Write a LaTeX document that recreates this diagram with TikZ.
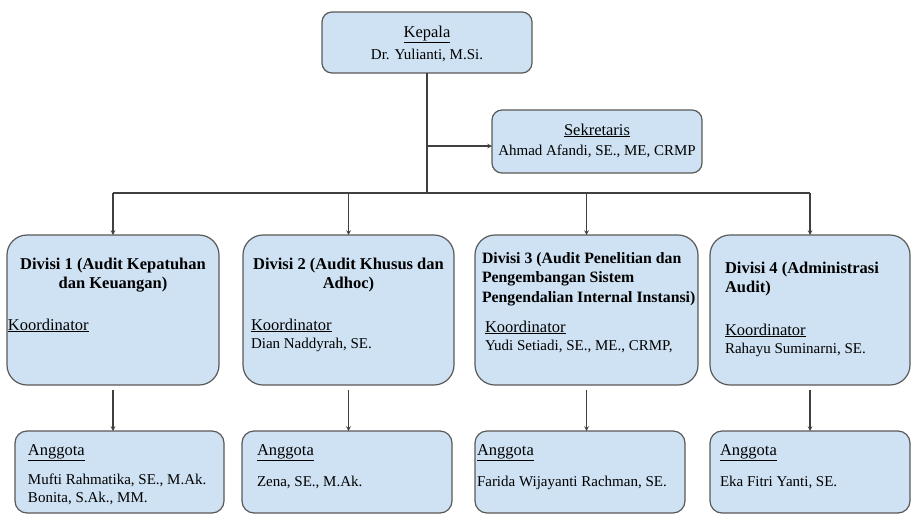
\documentclass[tikz,border=0pt]{standalone}
\usepackage{fontspec}
\setmainfont{Liberation Serif}
\usepackage{tikz}
\usetikzlibrary{arrows,calc,positioning}
\definecolor{biruMuda}{RGB}{207, 226, 243}
\definecolor{abuGaris}{RGB}{89, 89, 89}
\definecolor{abuPanah}{RGB}{64, 64, 64}
\newcommand{\judulfont}{\fontsize{16.5}{19}\selectfont}
\newcommand{\namafont}{\fontsize{15}{18}\selectfont}
\tikzstyle{kotak}=[draw=abuGaris, fill=biruMuda, line width=1.2pt,
                   inner sep=0pt, outer sep=0pt, rounded corners=10pt]
\tikzstyle{garisp}=[draw=abuPanah, line width=1.1pt]
\tikzstyle{panah}=[garisp, ->, >=stealth]

\begin{document}
\begin{tikzpicture}[x=1pt,y=-1pt]
    \useasboundingbox (0,0) rectangle (911,515);

    % pimpinan
    \draw (427,42.5) node (kepala) [kotak] {\parbox[t][61pt][t]{210pt}{\centering
        {\judulfont\rule{0pt}{25pt}\underline{Kepala}\par}\vspace{4pt}
        {\namafont Dr. Yulianti, M.Si.\par}}};
    \draw (597,141.5) node (sekretaris) [kotak] {\parbox[t][63pt][t]{210pt}{\centering
        {\judulfont\rule{0pt}{25pt}\underline{Sekretaris}\par}\vspace{2pt}
        {\namafont Ahmad Afandi, SE., ME, CRMP\par}}};

    % divisi
    \draw (113,310) node (div1) [kotak,rounded corners=20pt] {\parbox[t][150pt][t]{212pt}{%
        {\centering\judulfont\bfseries\rule{0pt}{34pt}Divisi 1 (Audit Kepatuhan\\dan Keuangan)\par}
        \vspace{23pt}
        {\judulfont\hspace*{1pt}\underline{Koordinator}\par}}};
    \draw (348.5,310) node (div2) [kotak,rounded corners=20pt] {\parbox[t][150pt][t]{211pt}{%
        {\centering\judulfont\bfseries\rule{0pt}{34pt}Divisi 2 (Audit Khusus dan\\Adhoc)\par}
        \vspace{23pt}
        {\leftskip=8pt\judulfont\underline{Koordinator}\par}
        {\leftskip=8pt\namafont Dian Naddyrah, SE.\par}}};
    \draw (586.5,310) node (div3) [kotak,rounded corners=20pt] {\parbox[t][150pt][t]{223pt}{%
        {\leftskip=7pt\fontsize{15.8}{19.5}\selectfont\bfseries\rule{0pt}{28pt}\mbox{Divisi 3 (Audit Penelitian dan}\\
            \mbox{Pengembangan Sistem}\\\mbox{Pengendalian Internal Instansi)}\par}
        \vspace{11pt}
        {\leftskip=10pt\judulfont\underline{Koordinator}\par}
        {\leftskip=10pt\namafont Yudi Setiadi, SE., ME., CRMP,\par}}};
    \draw (810,310) node (div4) [kotak,rounded corners=20pt] {\parbox[t][150pt][t]{200pt}{%
        {\leftskip=15pt\judulfont\bfseries\rule{0pt}{38pt}Divisi 4 (Administrasi\\Audit)\par}
        \vspace{24pt}
        {\leftskip=15pt\judulfont\underline{Koordinator}\par}
        {\leftskip=15pt\namafont Rahayu Suminarni, SE.\par}}};

    % anggota
    \draw (119.5,472) node (ang1) [kotak,rounded corners=12pt] {\parbox[t][82pt][t]{209pt}{%
        {\leftskip=13pt\judulfont\rule{0pt}{24pt}\underline{Anggota}\par}
        \vspace{11pt}
        {\leftskip=13pt\namafont Mufti Rahmatika, SE., M.Ak.\\Bonita, S.Ak., MM.\par}}};
    \draw (347,472) node (ang2) [kotak,rounded corners=12pt] {\parbox[t][82pt][t]{210pt}{%
        {\leftskip=15pt\judulfont\rule{0pt}{24pt}\underline{Anggota}\par}
        \vspace{13pt}
        {\leftskip=15pt\namafont Zena, SE., M.Ak.\par}}};
    \draw (580,472) node (ang3) [kotak,rounded corners=12pt] {\parbox[t][82pt][t]{210pt}{%
        {\leftskip=2pt\judulfont\rule{0pt}{24pt}\underline{Anggota}\par}
        \vspace{13pt}
        {\leftskip=2pt\namafont Farida Wijayanti Rachman, SE.\par}}};
    \draw (810,472) node (ang4) [kotak,rounded corners=12pt] {\parbox[t][82pt][t]{200pt}{%
        {\leftskip=10pt\judulfont\rule{0pt}{24pt}\underline{Anggota}\par}
        \vspace{13pt}
        {\leftskip=10pt\namafont Eka Fitri Yanti, SE.\par}}};

    % garis penghubung
    \coordinate (cabang) at ($(kepala.south)+(0,73)$);
    \coordinate (bus) at ($(kepala.south)+(0,120)$);
    \draw [garisp] (kepala) -- (bus);
    \draw [panah] (cabang) -- (cabang -| sekretaris.west);
    \draw [garisp] (bus -| div1.north) -- (bus -| div4.north);
    \foreach \i in {1,...,4}
        \draw [panah] (bus -| div\i.north) -- (div\i.north);
    \foreach \i in {1,...,4}
        \draw [panah,shorten <=5pt] (div\i.south) -- (div\i.south |- ang\i.north);

\end{tikzpicture}
\end{document}
